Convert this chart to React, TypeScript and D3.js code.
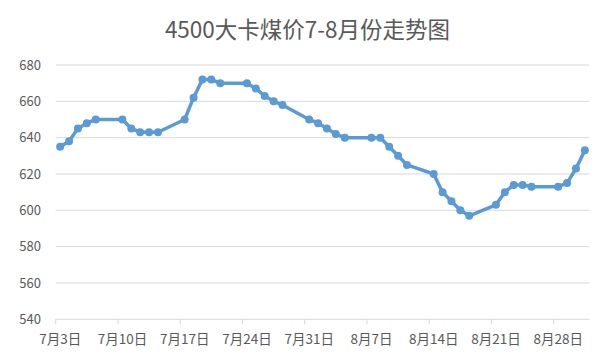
import React from "react";
import * as d3 from "d3";

const TITLE = "4500大卡煤价7-8月份走势图";
const DATES = [
  "2017-07-03", "2017-07-04", "2017-07-05", "2017-07-06", "2017-07-07",
  "2017-07-10", "2017-07-11", "2017-07-12", "2017-07-13", "2017-07-14",
  "2017-07-17", "2017-07-18", "2017-07-19", "2017-07-20", "2017-07-21",
  "2017-07-24", "2017-07-25", "2017-07-26", "2017-07-27", "2017-07-28",
  "2017-07-31", "2017-08-01", "2017-08-02", "2017-08-03", "2017-08-04",
  "2017-08-07", "2017-08-08", "2017-08-09", "2017-08-10", "2017-08-11",
  "2017-08-14", "2017-08-15", "2017-08-16", "2017-08-17", "2017-08-18",
  "2017-08-21", "2017-08-22", "2017-08-23", "2017-08-24", "2017-08-25",
  "2017-08-28", "2017-08-29", "2017-08-30", "2017-08-31",
];
const PRICES = [
  635, 638, 645, 648, 650,
  650, 645, 643, 643, 643,
  650, 662, 672, 672, 670,
  670, 667, 663, 660, 658,
  650, 648, 645, 642, 640,
  640, 640, 635, 630, 625,
  620, 610, 605, 600, 597,
  603, 610, 614, 614, 613,
  613, 615, 623, 633,
];
const Y_TICKS = [540, 560, 580, 600, 620, 640, 660, 680];
const X_TICK_DATES = [
  "2017-07-03", "2017-07-10", "2017-07-17", "2017-07-24", "2017-07-31",
  "2017-08-07", "2017-08-14", "2017-08-21", "2017-08-28",
];
const X_TICK_LABELS = [
  "7月3日", "7月10日", "7月17日", "7月24日", "7月31日",
  "8月7日", "8月14日", "8月21日", "8月28日",
];
const DOMAIN_START = "2017-07-03";
const DOMAIN_END = "2017-09-01";

const parse = (s: string) => d3.timeParse("%Y-%m-%d")(s) as Date;
const HALF_DAY = 12 * 3600 * 1000;

export default function App() {
  const W = 605, H = 364;
  const left = 55.7, right = 589.3, top = 65, bottom = 319.3;
  const x = d3.scaleTime().domain([parse(DOMAIN_START), parse(DOMAIN_END)]).range([left, right]);
  const y = d3.scaleLinear().domain([540, 680]).range([bottom, top]);
  const pts = DATES.map((d, i) => ({ x: x(new Date(parse(d).getTime() + HALF_DAY)), y: y(PRICES[i]) }));
  const line = d3.line<{ x: number; y: number }>().x((p) => p.x).y((p) => p.y);
  const font = "'Noto Sans CJK SC', 'Noto Sans', sans-serif";
  const color = "#5b9bd5";
  return (
    <svg width={W} height={H} style={{ position: "absolute", left: 0, top: 0, background: "#fff" }} fontFamily={font}>
      <rect x={0} y={0} width={W} height={H} fill="#fff" />
      <text x={307.5} y={37.5} textAnchor="middle" fontSize={22.5} fill="#595959">{TITLE}</text>
      {Y_TICKS.map((t) => (
        <g key={t}>
          {t !== 540 && <line x1={left} x2={right} y1={y(t)} y2={y(t)} stroke="#d9d9d9" strokeWidth={1} />}
          <text x={41} y={y(t)} dy="0.35em" textAnchor="end" fontSize={13} fill="#595959">{t}</text>
        </g>
      ))}
      <line x1={left} x2={right} y1={bottom} y2={bottom} stroke="#d9d9d9" strokeWidth={1} />
      {X_TICK_DATES.map((d, i) => {
        const tx = x(parse(d));
        const lx = x(new Date(parse(d).getTime() + HALF_DAY));
        return (
          <g key={d}>
            <line x1={tx} x2={tx} y1={bottom} y2={bottom + 5} stroke="#d9d9d9" strokeWidth={1} />
            <text x={lx} y={343.5} textAnchor="middle" fontSize={13.5} fill="#595959">{X_TICK_LABELS[i]}</text>
          </g>
        );
      })}
      <path d={line(pts) || ""} fill="none" stroke={color} strokeWidth={3.5} strokeLinejoin="round" strokeLinecap="round" />
      {pts.map((p, i) => (
        <circle key={i} cx={p.x} cy={p.y} r={4} fill={color} />
      ))}
    </svg>
  );
}
